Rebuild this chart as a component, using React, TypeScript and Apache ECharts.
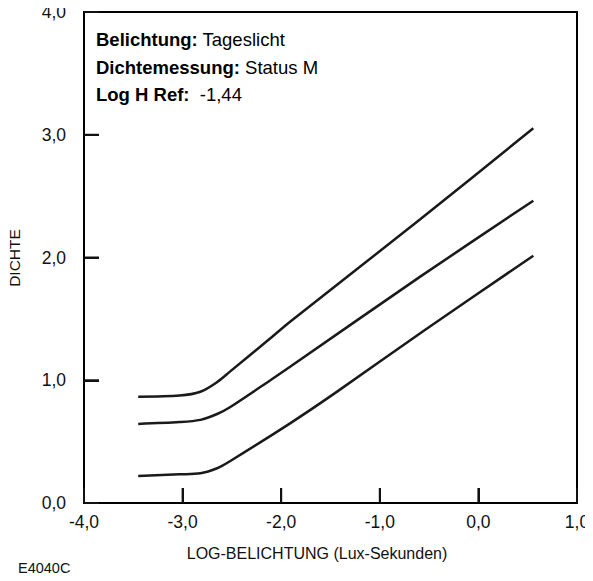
import React, { useEffect, useRef } from "react";
import * as echarts from "echarts";

const xTicks = [-4, -3, -2, -1, 0, 1];
const yTicks = [0, 1, 2, 3, 4];

const xB = [-3.45, -3.03, -2.82, -2.65, -2.52, -2.11, -1.91, -0.59, 0.557];
const yB = [0.866, 0.875, 0.906, 0.985, 1.07, 1.342, 1.477, 2.311, 3.053];

const xG = [-3.45, -3.03, -2.82, -2.65, -2.52, -2.11, -1.91, -0.59, 0.557];
const yG = [0.644, 0.659, 0.677, 0.725, 0.78, 1.0, 1.11, 1.844, 2.463];

const xR = [-3.45, -3.03, -2.82, -2.65, -2.52, -1.91, -1.455, -0.55, 0.557];
const yR = [0.22, 0.234, 0.242, 0.283, 0.34, 0.649, 0.895, 1.405, 2.015];

const seriesNames = ["B", "G", "R"];

const infoLines = [
  ["Belichtung:", "Tageslicht"],
  ["Dichtemessung:", "Status M"],
  ["Log H Ref:", " -1,44"],
];

const xAxisTitle = "LOG-BELICHTUNG (Lux-Sekunden)";
const yAxisTitle = "DICHTE";
const figureCode = "E4040C";

const fmt = (v: number) => v.toFixed(1).replace(".", ",");

export default function App() {
  const ref = useRef<HTMLDivElement>(null);
  useEffect(() => {
    if (!ref.current) return;
    const chart = echarts.init(ref.current, null, { renderer: "svg" });
    const font = "'Liberation Sans', Arial, Helvetica, sans-serif";
    const xMin = xTicks[0];
    const xMax = xTicks[xTicks.length - 1];
    const yMin = yTicks[0];
    const yMax = yTicks[yTicks.length - 1];
    const TICK = 15;
    const INK = "#121212";
    const mk = (name: string, xs: number[], ys: number[]) => ({
      type: "line",
      name,
      smooth: 0.3,
      symbol: "none",
      lineStyle: { color: "#1a1a1a", width: 2.5 },
      data: xs.map((x, i) =>
        i === 0
          ? {
              value: [x, ys[i]],
              label: {
                show: true,
                position: "left",
                distance: 6,
                formatter: name,
                fontSize: 15.5,
                color: "#111",
                fontFamily: font,
              },
            }
          : [x, ys[i]]
      ),
    });
    const tickSeries = (data: number[][], horizontal: boolean) => ({
      type: "custom",
      silent: true,
      clip: false,
      z: 20,
      data,
      renderItem: (_p: any, api: any) => {
        const p = api.coord([api.value(0), api.value(1)]);
        return {
          type: "line",
          z2: 20,
          shape: horizontal
            ? { x1: p[0], y1: p[1], x2: p[0] + TICK, y2: p[1] }
            : { x1: p[0], y1: p[1], x2: p[0], y2: p[1] - TICK },
          style: { stroke: INK, lineWidth: 2 },
        };
      },
    });
    const tick = { show: true, inside: true, length: TICK, lineStyle: { color: INK, width: 2 } };
    chart.setOption({
      animation: false,
      grid: {
        left: 84,
        right: 16,
        top: 12,
        bottom: 78,
        show: true,
        borderColor: "#000",
        borderWidth: 2,
      },
      xAxis: {
        type: "value",
        min: xMin,
        max: xMax,
        interval: 1,
        axisLine: { show: true, onZero: false, lineStyle: { color: "#000", width: 2 } },
        axisTick: tick,
        splitLine: { show: false },
        axisLabel: {
          margin: 10,
          fontSize: 17.5,
          color: "#111",
          fontFamily: font,
          formatter: (v: number) => fmt(v),
        },
      },
      yAxis: {
        type: "value",
        min: yMin,
        max: yMax,
        interval: 1,
        axisLine: { show: true, onZero: false, lineStyle: { color: "#000", width: 2 } },
        axisTick: { ...tick, lineStyle: { color: INK, width: 2 } },
        splitLine: { show: false },
        axisLabel: {
          margin: 18,
          fontSize: 17.5,
          color: "#111",
          fontFamily: font,
          padding: [6, 0, 0, 0],
          formatter: (v: number) => fmt(v),
        },
      },
      series: [
        mk(seriesNames[0], xB, yB),
        mk(seriesNames[1], xG, yG),
        mk(seriesNames[2], xR, yR),
        tickSeries(xTicks.slice(1, -1).map((v) => [v, yMin]), false),
        tickSeries(yTicks.slice(1, -1).map((v) => [xMin, v]), true),
      ],
      graphic: [
        ...infoLines.map((l, i) => ({
          type: "text",
          left: 96,
          top: 30 + i * 27.5,
          style: {
            text: `{b|${l[0]}} ${l[1]}`,
            rich: {
              b: { fontWeight: "bold", fontSize: 18.5, fontFamily: font, fill: "#000" },
            },
            fontSize: 18.5,
            fontFamily: font,
            fill: "#000",
          },
        })),
        {
          type: "text",
          x: 14,
          y: 258,
          rotation: Math.PI / 2,
          style: {
            text: yAxisTitle,
            fontSize: 15.5,
            fontFamily: font,
            fill: "#111",
            align: "center",
            verticalAlign: "middle",
          },
        },
        {
          type: "text",
          x: 317,
          y: 553,
          style: {
            text: xAxisTitle,
            fontSize: 16,
            fontFamily: font,
            fill: "#111",
            align: "center",
            verticalAlign: "middle",
          },
        },
        {
          type: "text",
          x: 18,
          y: 568,
          style: {
            text: figureCode,
            fontSize: 14.5,
            fontFamily: font,
            fill: "#111",
            align: "left",
            verticalAlign: "middle",
          },
        },
      ],
    });
    return () => chart.dispose();
  }, []);
  return <div ref={ref} style={{ width: 593, height: 581, margin: -8 }} />;
}
